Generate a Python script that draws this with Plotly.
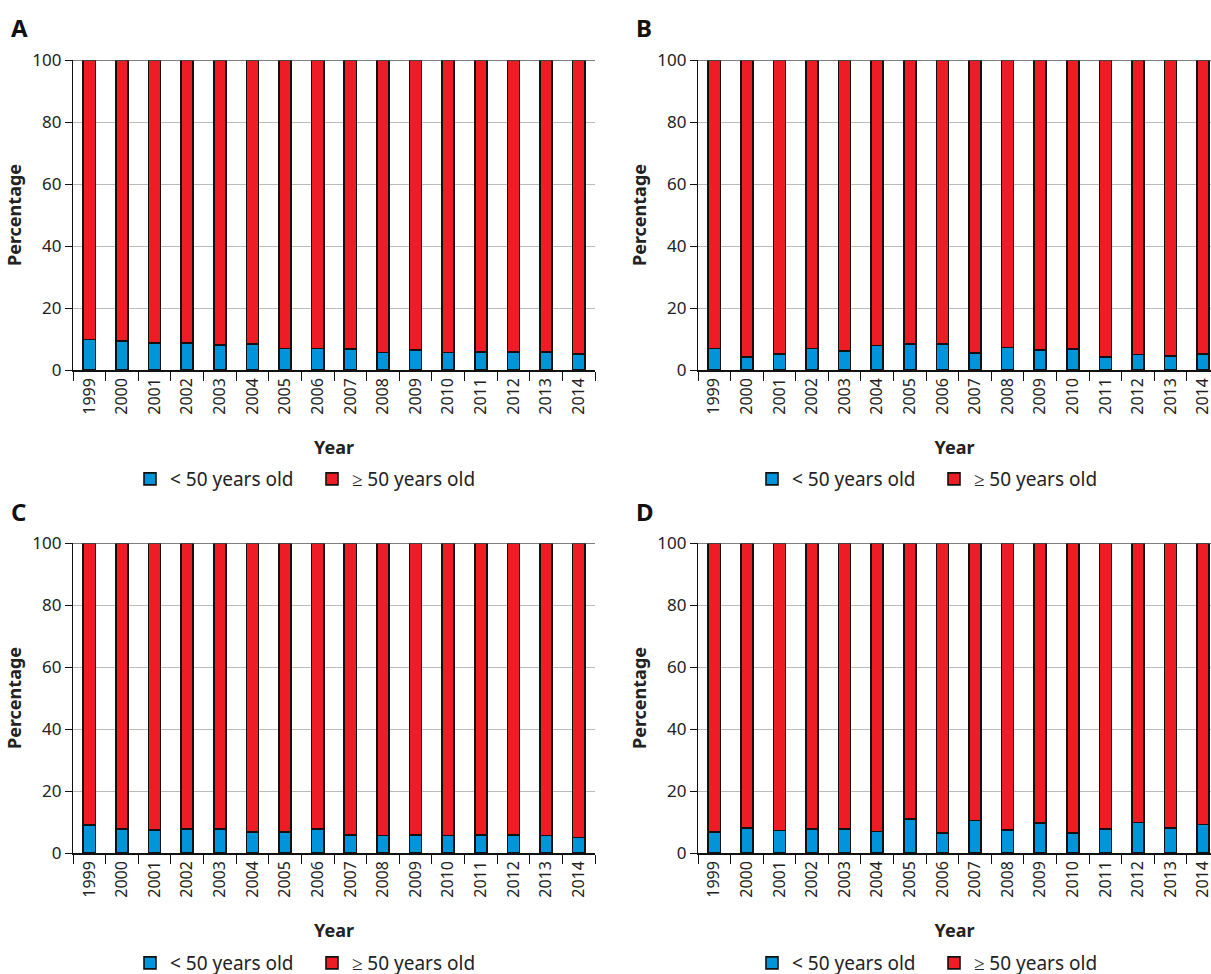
import plotly.graph_objects as go

years = [str(y) for y in range(1999, 2015)]
under50_A = [9.9, 9.4, 8.7, 8.8, 8.0, 8.4, 6.9, 6.9, 6.7, 5.6, 6.5, 5.7, 5.8, 5.8, 5.9, 5.2]
under50_B = [6.9, 4.2, 5.2, 6.9, 6.2, 7.9, 8.3, 8.3, 5.5, 7.2, 6.4, 6.7, 4.2, 5.0, 4.6, 5.1]
under50_C = [9.0, 7.7, 7.5, 7.7, 7.7, 6.8, 6.8, 7.7, 5.8, 5.6, 5.8, 5.6, 5.9, 5.9, 5.7, 5.0]
under50_D = [6.8, 8.1, 7.3, 7.8, 7.8, 7.0, 11.0, 6.5, 10.5, 7.5, 9.7, 6.5, 7.8, 9.8, 8.1, 9.2]
over50_A = [round(100 - v, 1) for v in under50_A]
over50_B = [round(100 - v, 1) for v in under50_B]
over50_C = [round(100 - v, 1) for v in under50_C]
over50_D = [round(100 - v, 1) for v in under50_D]
panel_labels = ["A", "B", "C", "D"]
series_names = ["< 50 years old", "\u2265 50 years old"]
y_ticks = [0, 20, 40, 60, 80, 100]

W, H = 1211, 974
FONT = "Noto Sans"
TXT = "#222222"
BLUE = "#0095DA"
RED = "#EE1D25"

def px(x):
    return x / W

def py(y):
    return 1 - y / H

panels = [
    dict(lab="A", u=under50_A, o=over50_A, x0=73, x1=595, y0=60, y1=370, rng=[-0.5, 15.5], leg=(130, 479)),
    dict(lab="B", u=under50_B, o=over50_B, x0=698, x1=1211, y0=60, y1=370, rng=[-0.5, 15.24], leg=(752, 479)),
    dict(lab="C", u=under50_C, o=over50_C, x0=73, x1=595, y0=543, y1=853, rng=[-0.5, 15.5], leg=(130, 963)),
    dict(lab="D", u=under50_D, o=over50_D, x0=698, x1=1211, y0=543, y1=853, rng=[-0.5, 15.24], leg=(752, 963)),
]

fig = go.Figure()
layout = dict(
    width=W, height=H, margin=dict(l=0, r=0, t=0, b=0, autoexpand=False),
    paper_bgcolor="white", plot_bgcolor="white",
    barmode="stack", bargap=0.63,
    font=dict(family=FONT, color=TXT, size=16),
    annotations=[], shapes=[],
)

for i, p in enumerate(panels):
    n = "" if i == 0 else str(i + 1)
    xa, ya = "x" + n, "y" + n
    legname = "legend" + n
    for vals, name, col in [(p["u"], series_names[0], BLUE), (p["o"], series_names[1], RED)]:
        fig.add_trace(go.Bar(
            x=years, y=vals, name=name, xaxis=xa, yaxis=ya,
            marker=dict(color=col, line=dict(color="#111111", width=1.6)),
            legend=legname, showlegend=True,
        ))
    layout["xaxis" + n] = dict(
        domain=[px(p["x0"]), px(p["x1"])], anchor=ya, type="category", automargin=False,
        range=p["rng"], showline=True, linecolor="#111111", linewidth=1.5,
        ticks="outside", tickson="boundaries", ticklen=9, tickcolor="#111111", tickwidth=1.2,
        tickangle=-90, tickfont=dict(size=16, color=TXT, family=FONT),
        showgrid=False, fixedrange=True,
        title=dict(text="<b>Year</b>", font=dict(size=18, color=TXT, family=FONT), standoff=28),
    )
    layout["yaxis" + n] = dict(
        domain=[py(p["y1"]), py(p["y0"])], anchor=xa, range=[0, 100], automargin=False,
        tickvals=y_ticks, showline=True, linecolor="#111111", linewidth=1.2,
        ticks="outside", ticklen=7, tickcolor="#111111", tickwidth=1.2,
        tickfont=dict(size=17, color=TXT, family=FONT),
        showgrid=True, gridcolor="#BBBBBB", gridwidth=1, zeroline=False,
        title=dict(text="<b>Percentage</b>", font=dict(size=18, color=TXT, family=FONT), standoff=6),
    )
    layout[legname] = dict(
        orientation="h", x=px(p["leg"][0]), y=py(p["leg"][1]), xanchor="left", yanchor="middle",
        traceorder="normal", font=dict(size=19, color=TXT, family=FONT),
        bgcolor="rgba(0,0,0,0)", itemwidth=30, entrywidth=137, entrywidthmode="pixels",
    )
    layout["annotations"].append(dict(
        text="<b>%s</b>" % p["lab"], xref="paper", yref="paper",
        x=px(p["x0"] - 64), y=py(p["y0"] - 32), xanchor="left", yanchor="middle",
        showarrow=False, font=dict(size=24, color="#111111", family=FONT),
    ))
    layout["shapes"].append(dict(
        type="line", xref=xa + " domain", yref=ya, x0=0, x1=1, y0=100, y1=100,
        line=dict(color="#555555", width=1.5), layer="above",
    ))

fig.update_layout(**layout)
fig.write_html("out.html", config={"displayModeBar": False},
               post_script="document.body.style.margin='0';document.body.style.overflow='hidden';")
